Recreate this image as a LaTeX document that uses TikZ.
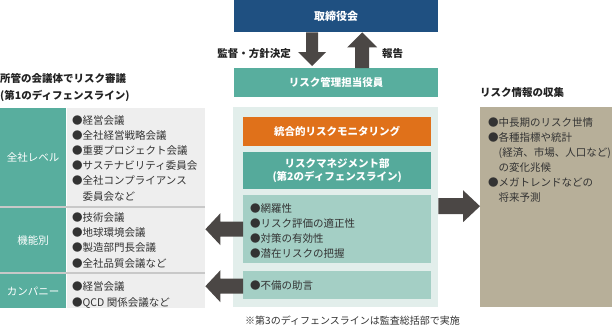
\documentclass[tikz,border=0pt]{standalone}
\usepackage{fontspec}
\setmainfont{Noto Sans CJK JP}
\usetikzlibrary{calc}
\definecolor{boardblue}{HTML}{1F5081}
\definecolor{tealA}{HTML}{58AE9E}
\definecolor{tealB}{HTML}{55AA9B}
\definecolor{lightbg}{HTML}{E2EEEB}
\definecolor{lightteal}{HTML}{A4CFC5}
\definecolor{orangeA}{HTML}{E0711A}
\definecolor{khaki}{HTML}{B7AF99}
\definecolor{arrowc}{HTML}{4B4745}
\definecolor{graybg}{HTML}{EEEEEE}
\definecolor{grayline}{HTML}{C8C8C8}
\definecolor{txt}{HTML}{333333}
\definecolor{headtxt}{HTML}{222222}
\tikzset{
  box/.style={rectangle, inner sep=0pt, anchor=north west, draw=none},
  sz/.style 2 args={minimum width=#1bp, minimum height=#2bp},
  whitehead/.style={text=white, font=\fontsize{10.5bp}{13bp}\selectfont\bfseries, align=center},
  whitelbl/.style={text=white, font=\fontsize{10.5bp}{13bp}\selectfont},
  listtxt/.style={inner sep=0pt, anchor=base west, text=txt, align=left,
                  font=\fontsize{10.5bp}{15.2bp}\selectfont},
  headline/.style={inner sep=0pt, anchor=base west, text=headtxt, align=left,
                  font=\fontsize{10.5bp}{17bp}\selectfont\bfseries},
  arr/.style={fill=arrowc, draw=none}
}
\newcommand{\bl}{●}
\newcommand{\ind}{\phantom{●}}
\begin{document}
\begin{tikzpicture}[x=1bp,y=-1bp]
\useasboundingbox (0,0) rectangle (612,329);

% centre column
\node[box, sz={204}{32}, fill=boardblue, whitehead, font=\fontsize{11bp}{13bp}\selectfont\bfseries] (board) at (234,0) {取締役会};
\node[box, sz={204}{29}, fill=tealA, whitehead] (officer) at (234,68) {リスク管理担当役員};
\node[box, sz={205}{200}, fill=lightbg] (container) at (233,107) {};
\node[box, sz={188}{29}, fill=orangeA, whitehead] (monitor) at (243,117) {統合的リスクモニタリング};
\node[box, sz={188}{37}, fill=tealB, whitehead] (rmd) at (243,152) {リスクマネジメント部\\(第2のディフェンスライン)};
\node[box, sz={188}{68}, fill=lightteal] (checks) at (243,195) {};
\node[box, sz={188}{28}, fill=lightteal] (advice) at (243,271) {};
\node[listtxt, font=\fontsize{10.5bp}{15bp}\selectfont] (checkstxt) at (250,257) {\bl 網羅性\\\bl リスク評価の適正性\\\bl 対策の有効性\\\bl 潜在リスクの把握};
\node[listtxt] (advicetxt) at (250,289) {\bl 不備の助言};

% board arrows
\coordinate (dtop) at ($(board.south)+(-24,0)$);
\coordinate (dtip) at ($(officer.north)+(-24,-2)$);
\coordinate (utip) at ($(board.south)+(26,0)$);
\coordinate (ubot) at ($(officer.north)+(26,0)$);
\fill[arr] ($(dtop)+(-6,0)$) -- ($(dtop)+(6,0)$) -- ($(dtip)+(6,-14)$) -- ($(dtip)+(14,-14)$) -- (dtip)
  -- ($(dtip)+(-14,-14)$) -- ($(dtip)+(-6,-14)$) -- cycle;
\fill[arr] ($(ubot)+(-7,0)$) -- ($(utip)+(-7,15)$) -- ($(utip)+(-15,15)$) -- (utip)
  -- ($(utip)+(15,15)$) -- ($(utip)+(7,15)$) -- ($(ubot)+(7,0)$) -- cycle;
\node[inner sep=0pt, anchor=base east, text=headtxt, font=\fontsize{10.5bp}{13bp}\selectfont\bfseries] (lbldown) at (291,57) {監督・方針決定};
\node[inner sep=0pt, anchor=base west, text=headtxt, font=\fontsize{10.5bp}{13bp}\selectfont\bfseries] (lblup) at (382,57) {報告};

% left side
\node[headline] (lefthead) at (0,99) {所管の会議体でリスク審議\\(第1のディフェンスライン)};
\node[box, sz={66}{98}, fill=tealA, whitelbl] (lbl1) at (0,108) {全社レベル};
\node[box, sz={138}{98}, fill=graybg] (list1) at (67,108) {};
\node[box, sz={205}{2}, fill=grayline] (sep1) at (0,206) {};
\node[box, sz={66}{64}, fill=tealA, whitelbl] (lbl2) at (0,208) {機能別};
\node[box, sz={138}{64}, fill=graybg] (list2) at (67,208) {};
\node[box, sz={205}{2}, fill=grayline] (sep2) at (0,272) {};
\node[box, sz={66}{34}, fill=tealA, whitelbl] (lbl3) at (0,274) {カンパニー};
\node[box, sz={138}{34}, fill=graybg] (list3) at (67,274) {};
\node[listtxt] (list1txt) at (72,200) {\bl 経営会議\\\bl 全社経営戦略会議\\\bl 重要プロジェクト会議\\\bl サステナビリティ委員会\\\bl 全社コンプライアンス\\\ind 委員会など};
\node[listtxt] (list2txt) at (72,267) {\bl 技術会議\\\bl 地球環境会議\\\bl 製造部門長会議\\\bl 全社品質会議など};
\node[listtxt] (list3txt) at (72,306) {\bl 経営会議\\\bl QCD 関係会議など};

% left arrows
\coordinate (t1) at (checks.west -| list1.east);
\coordinate (t2) at ($(advice.west -| list1.east)+(0,1)$);
\fill[arr] ($(checks.west |- t1)+(0,-7.5)$) -- ($(t1)+(15,-7.5)$) -- ($(t1)+(15,-16)$) -- (t1)
  -- ($(t1)+(15,16)$) -- ($(t1)+(15,7.5)$) -- ($(checks.west |- t1)+(0,7.5)$) -- cycle;
\fill[arr] ($(advice.west |- t2)+(0,-7.5)$) -- ($(t2)+(15,-7.5)$) -- ($(t2)+(15,-16)$) -- (t2)
  -- ($(t2)+(15,16)$) -- ($(t2)+(15,7.5)$) -- ($(advice.west |- t2)+(0,7.5)$) -- cycle;

% right side
\node[headline] (righthead) at (480,96) {リスク情報の収集};
\node[box, sz={132}{200}, fill=khaki] (info) at (480,107) {};
\node[listtxt, font=\fontsize{10.5bp}{15bp}\selectfont] (infotxt) at (488,201) {\bl 中長期のリスク世情\\\bl 各種指標や統計\\\ind (経済、市場、人口など)\\\ind の変化兆候\\\bl メガトレンドなどの\\\ind 将来予測};

% right arrow
\coordinate (t3) at ($(container.east -| info.west)+(0,-1)$);
\fill[arr] ($(container.east |- t3)+(0,-8)$) -- ($(t3)+(-17,-8)$) -- ($(t3)+(-17,-16)$) -- (t3)
  -- ($(t3)+(-17,16)$) -- ($(t3)+(-17,8)$) -- ($(container.east |- t3)+(0,8)$) -- cycle;

% note
\node[inner sep=0pt, anchor=base west, text=txt, font=\fontsize{10bp}{12bp}\selectfont] (note) at (245,324) {※第3のディフェンスラインは監査総括部で実施};
\end{tikzpicture}
\end{document}
